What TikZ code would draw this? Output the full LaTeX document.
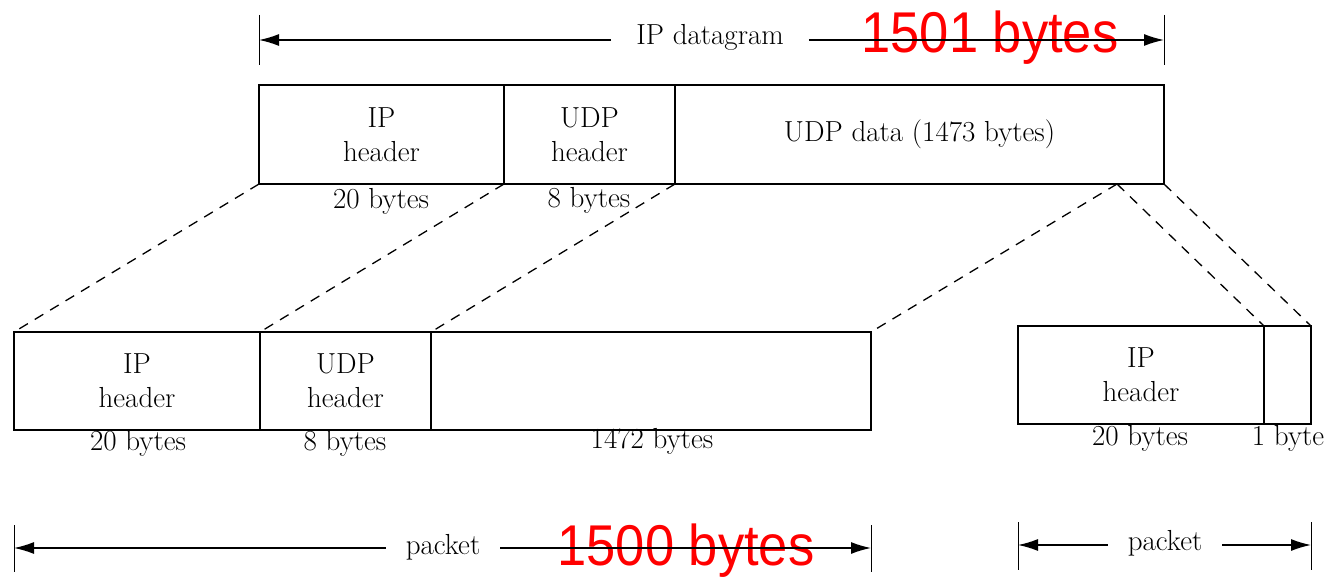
\documentclass[tikz,border=0pt]{standalone}
\usepackage{fontspec}
\usepackage{graphicx}
\newfontfamily\redfont{Liberation Sans}
\usetikzlibrary{arrows.meta}
\begin{document}
\begin{tikzpicture}[x=1pt,y=-1pt,
  box/.style={draw,line width=1.4pt,rectangle,inner sep=0pt,outer sep=0pt,align=center,
    font=\fontsize{29}{34}\selectfont},
  lbl/.style={inner sep=0pt,font=\fontsize{29}{34}\selectfont},
  dim/.style={line width=1.4pt,-{Latex[length=20pt,width=12pt]}},
  tick/.style={line width=1pt},
  conn/.style={line width=1.3pt,dash pattern=on 10pt off 8pt},
  redlbl/.style={inner sep=0pt,text=red,font=\redfont\fontsize{50}{60}\selectfont}]
\useasboundingbox (0,0) rectangle (1326,577);
% ---- top dimension ----
\coordinate (tl) at (259,40);
\coordinate (tr) at (1164,40);
\draw[tick] (259,15) -- (259,65);
\draw[tick] (1164,15) -- (1164,65);
\node[redlbl] (r1) at (990,38) {\scalebox{1.05}[1.15]{1501 bytes}};
\node[lbl,inner xsep=25pt] (dg) at (710,37) {IP datagram};
\draw[dim] (dg.west |- tl) -- (tl);
\draw[dim] (dg.east |- tr) -- (tr);
% ---- top boxes ----
\node[box,minimum width=245pt,minimum height=99pt] (ip1) at (381.5,134.5) {IP\\header};
\node[box,minimum width=171pt,minimum height=99pt] (udp1) at (589.5,134.5) {UDP\\header};
\node[box,minimum width=489pt,minimum height=99pt] (data1) at (919.5,134.5) {UDP data (1473 bytes)};
\node[lbl] (b20a) at (381,201) {20 bytes};
\node[lbl] (b8a) at (589,200) {8 bytes};
\coordinate (split) at (1117,184);
% ---- bottom left boxes ----
\node[box,minimum width=246pt,minimum height=98pt] (ip2) at (137,381) {IP\\header};
\node[box,minimum width=171pt,minimum height=98pt] (udp2) at (345.5,381) {UDP\\header};
\node[box,minimum width=440pt,minimum height=98pt] (data2) at (651,381) {};
\node[lbl] (b20b) at (138,443) {20 bytes};
\node[lbl] (b8b) at (345,443) {8 bytes};
\node[lbl] (b1472) at (652,441) {1472 bytes};
% ---- bottom right boxes ----
\node[box,minimum width=246pt,minimum height=98pt] (ip3) at (1141,375) {IP\\header};
\node[box,minimum width=47pt,minimum height=98pt] (one) at (1287.5,375) {};
\node[lbl] (b20c) at (1140,438) {20 bytes};
\node[lbl] (b1) at (1288,438) {1 byte};
% ---- dashed connectors ----
\draw[conn] (ip1.south west) -- (ip2.north west);
\draw[conn] (udp1.south west) -- (udp2.north west);
\draw[conn] (data1.south west) -- (data2.north west);
\draw[conn] (split) -- (data2.north east);
\draw[conn] (split) -- (one.north west);
\draw[conn] (data1.south east) -- (one.north east);
% ---- bottom left dimension ----
\coordinate (pl) at (14,548);
\coordinate (pr) at (871,548);
\draw[tick] (14,525) -- (14,572);
\draw[tick] (871,525) -- (871,572);
\node[redlbl] (r2) at (686,551) {\scalebox{1.05}[1.15]{1500 bytes}};
\node[lbl,inner xsep=20pt] (pk1) at (443,547) {packet};
\draw[dim] (pk1.west |- pl) -- (pl);
\draw[dim] (pk1.east |- pr) -- (pr);
% ---- bottom right dimension ----
\coordinate (ql) at (1018,545);
\coordinate (qr) at (1311,545);
\draw[tick] (1018,522) -- (1018,570);
\draw[tick] (1311,522) -- (1311,570);
\node[lbl,inner xsep=20pt] (pk2) at (1165,543) {packet};
\draw[dim] (pk2.west |- ql) -- (ql);
\draw[dim] (pk2.east |- qr) -- (qr);
\end{tikzpicture}
\end{document}
